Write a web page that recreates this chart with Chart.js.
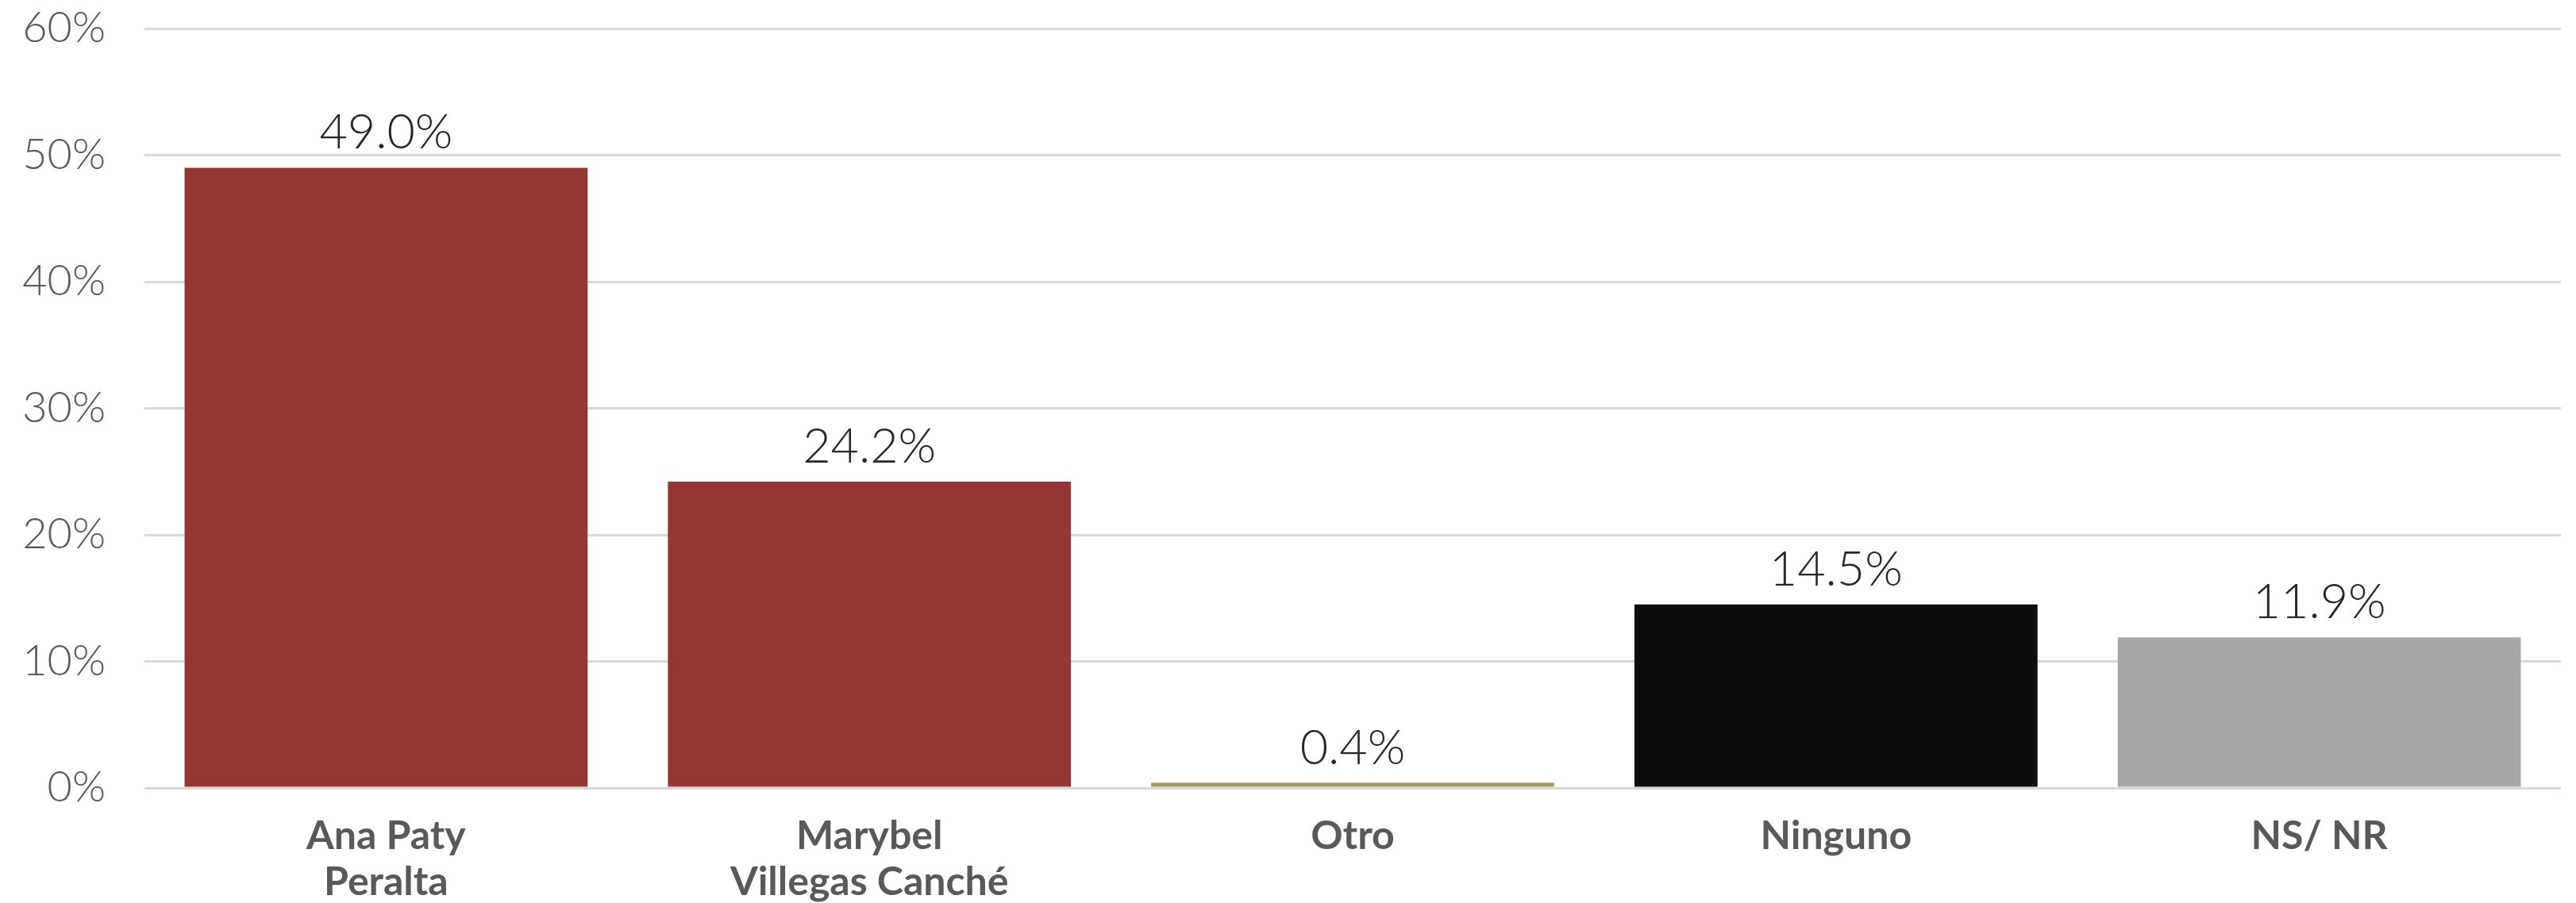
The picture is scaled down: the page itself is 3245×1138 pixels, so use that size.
<!DOCTYPE html>
<html>
<head>
<meta charset="utf-8">
<script src="https://cdn.jsdelivr.net/npm/chart.js@4.4.1/dist/chart.umd.min.js"></script>
<style>
html,body{margin:0;padding:0;background:#fff;}
#wrap{width:3245px;height:1138px;position:relative;}
</style>
</head>
<body>
<div id="wrap"><canvas id="c" width="3245" height="1138"></canvas></div>
<script>
const categories = [["Ana Paty","Peralta"],["Marybel","Villegas Canché"],"Otro","Ninguno","NS/ NR"];
const values = [49.0, 24.2, 0.4, 14.5, 11.9];
const barColors = ["#943634","#943634","#A19760","#0D0D0D","#A6A6A6"];
const yTicks = [0,10,20,30,40,50,60];

const valueLabels = {
  id:'valueLabels',
  afterDatasetsDraw(chart){
    const ctx = chart.ctx;
    const meta = chart.getDatasetMeta(0);
    ctx.save();
    ctx.font = '300 61px Lato';
    ctx.fillStyle = '#262626';
    ctx.textAlign = 'center';
    ctx.textBaseline = 'alphabetic';
    meta.data.forEach((el,i)=>{
      ctx.fillText(values[i].toFixed(1)+'%', el.x, el.y - 24);
    });
    ctx.restore();
  }
};

new Chart(document.getElementById('c'),{
  type:'bar',
  data:{labels:categories,datasets:[{data:values,backgroundColor:barColors,borderWidth:0,barPercentage:0.834,categoryPercentage:1}]},
  options:{
    responsive:false,
    animation:false,
    devicePixelRatio:1,
    layout:{padding:{top:0,right:19,left:0,bottom:0}},
    plugins:{legend:{display:false},tooltip:{enabled:false}},
    scales:{
      x:{
        grid:{display:false},
        border:{display:false},
        ticks:{color:'#595959',font:{family:'Lato',size:50,weight:'bold',lineHeight:1.16},padding:24,maxRotation:0,autoSkip:false},
        afterFit(s){s.height=145;s.paddingLeft=0;s.paddingRight=0;}
      },
      y:{
        min:0,max:60,
        afterBuildTicks(s){s.ticks=yTicks.map(v=>({value:v}));},
        grid:{color:'#D9D9D9',lineWidth:3,drawTicks:false},
        border:{display:false},
        ticks:{color:'#595959',font:{family:'Lato',size:54,weight:'300'},padding:49,callback:v=>v+'%'},
        afterFit(s){s.width=182;s.paddingTop=36;s.paddingBottom=0;}
      }
    }
  },
  plugins:[valueLabels]
});
</script>
</body>
</html>
